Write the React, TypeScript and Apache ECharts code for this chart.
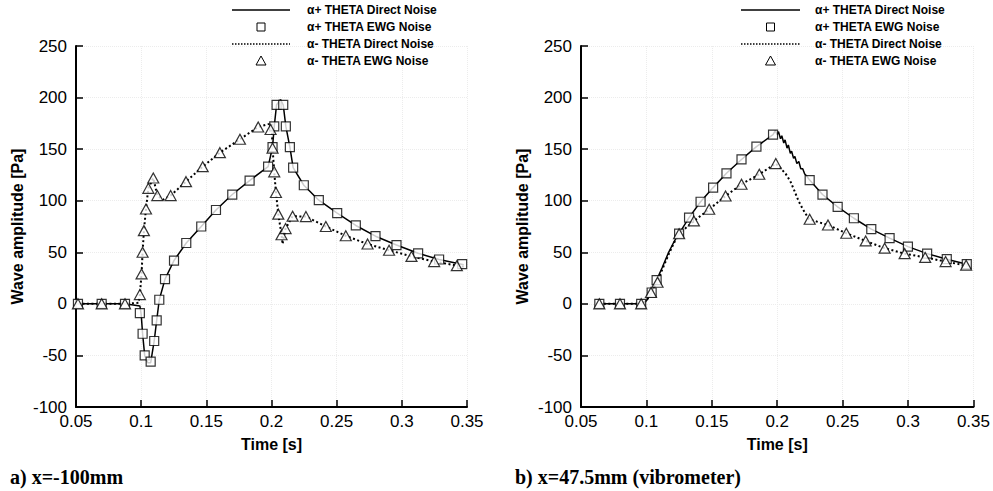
import React, { useEffect, useRef } from "react";
import * as echarts from "echarts";

// ---------- data (time [s], amplitude [Pa]) ----------
const xTicks = [0.05, 0.1, 0.15, 0.2, 0.25, 0.3, 0.35];
const yTicks = [-100, -50, 0, 50, 100, 150, 200, 250];

const seriesNames = [
  "α+ THETA Direct Noise",
  "α+ THETA EWG Noise",
  "α- THETA Direct Noise",
  "α- THETA EWG Noise",
];

const panelCaptions = ["a) x=-100mm", "b) x=47.5mm (vibrometer)"];

// panel a) x=-100mm
const leftPlusEwg: [number, number][] = [
  [0.0515, 0], [0.0697, 0], [0.0876, 0], [0.099, -9], [0.1011, -29], [0.1027, -50],
  [0.1073, -56], [0.11, -36], [0.1119, -16], [0.1139, 4], [0.1183, 24], [0.1252, 42],
  [0.1346, 59], [0.1461, 75], [0.1574, 91], [0.1699, 106], [0.1832, 119.5], [0.1974, 133],
  [0.2008, 152], [0.2021, 172], [0.2039, 193], [0.209, 193], [0.211, 172], [0.2141, 152],
  [0.2166, 132], [0.2248, 115], [0.2363, 100.5], [0.2504, 88], [0.2647, 76], [0.2798, 65.6],
  [0.2959, 57], [0.3125, 49], [0.3286, 43], [0.3463, 38.5],
];
const leftPlusDirect: [number, number][] = [
  [0.0515, 0], [0.0697, 0], [0.0876, 0], [0.099, -2], [0.1, -10], [0.1011, -29], [0.1027, -50],
  [0.105, -57], [0.1073, -57], [0.11, -36], [0.1119, -16], [0.1139, 4], [0.1183, 24],
  [0.1252, 42], [0.1346, 59], [0.1461, 75], [0.1574, 91], [0.1699, 106], [0.1832, 119.5],
  [0.1974, 133], [0.2008, 152], [0.2021, 172], [0.2039, 193], [0.2069, 198], [0.209, 193],
  [0.211, 172], [0.2141, 152], [0.2166, 132], [0.2248, 115], [0.2363, 100.5], [0.2504, 88],
  [0.2647, 76], [0.2798, 65.6], [0.2959, 57], [0.3125, 49], [0.3286, 43], [0.3475, 38],
];
const leftMinusEwg: [number, number][] = [
  [0.0515, 0], [0.0697, 0], [0.0876, 0], [0.099, 9], [0.1003, 29], [0.1011, 50], [0.1021, 71],
  [0.1037, 92], [0.1055, 112], [0.1093, 122], [0.1124, 105], [0.1226, 105], [0.1344, 118.5],
  [0.1472, 133], [0.1604, 146.6], [0.1758, 159.6], [0.1898, 171.5], [0.1993, 169],
  [0.2008, 151], [0.2021, 128], [0.2034, 108], [0.2052, 87], [0.2077, 67], [0.2108, 73],
  [0.2162, 85], [0.2264, 84.6], [0.2417, 75], [0.257, 66], [0.2737, 58], [0.2902, 52],
  [0.3074, 46], [0.3248, 41], [0.3422, 37],
];
const leftMinusDirect: [number, number][] = [
  [0.0515, 0], [0.0697, 0], [0.0876, 0], [0.098, 1], [0.099, 9], [0.1003, 29], [0.1011, 50],
  [0.1021, 71], [0.1037, 92], [0.1055, 112], [0.1093, 122], [0.1124, 105], [0.117, 101],
  [0.1226, 105], [0.1344, 118.5], [0.1472, 133], [0.1604, 146.6], [0.1758, 159.6],
  [0.1898, 171.5], [0.2, 175], [0.2008, 151], [0.2021, 128], [0.2034, 108], [0.2052, 87],
  [0.2077, 67], [0.2085, 58], [0.2108, 73], [0.2162, 85], [0.2264, 84.6], [0.2417, 75],
  [0.257, 66], [0.2737, 58], [0.2902, 52], [0.3074, 46], [0.3248, 41], [0.3475, 36],
];

// panel b) x=47.5mm (vibrometer)
const rightPlusEwg: [number, number][] = [
  [0.064, 0], [0.0798, 0], [0.096, 0], [0.104, 11], [0.1078, 23], [0.125, 68], [0.1326, 83.6],
  [0.1414, 99], [0.151, 112.7], [0.1612, 126.6], [0.1727, 140], [0.1841, 152.4],
  [0.1968, 164], [0.2248, 120], [0.2346, 106], [0.2462, 94], [0.2586, 83], [0.2719, 72.4],
  [0.2859, 63.7], [0.2999, 55.5], [0.3146, 48.7], [0.3296, 43.3], [0.3449, 38.5],
];
const rightPlusDirect: [number, number][] = [
  [0.064, 0], [0.0798, 0], [0.096, 0], [0.1, 3], [0.104, 11], [0.1078, 23], [0.112, 35],
  [0.117, 50], [0.121, 60], [0.125, 68], [0.1326, 83.6], [0.1414, 99], [0.151, 112.7],
  [0.1612, 126.6], [0.1727, 140], [0.1841, 152.4], [0.1968, 164], [0.1985, 168],
  [0.2, 164], [0.201, 167], [0.2025, 160], [0.2035, 163], [0.205, 156], [0.206, 159],
  [0.2075, 151], [0.2085, 154], [0.21, 146], [0.211, 148], [0.2125, 141], [0.2135, 143],
  [0.215, 136], [0.2165, 138], [0.218, 131], [0.2195, 131], [0.221, 126], [0.2225, 124],
  [0.2248, 120], [0.2346, 106], [0.2462, 94], [0.2586, 83], [0.2719, 72.4], [0.2859, 63.7],
  [0.2999, 55.5], [0.3146, 48.7], [0.3296, 43.3], [0.3465, 38],
];
const rightMinusEwg: [number, number][] = [
  [0.064, 0], [0.0798, 0], [0.096, 0], [0.1035, 11], [0.1085, 21], [0.125, 68],
  [0.1363, 80.4], [0.148, 91.7], [0.1605, 104.6], [0.1727, 116], [0.1863, 125.7],
  [0.1989, 136], [0.2248, 82], [0.2388, 76.5], [0.2528, 68.5], [0.2676, 61], [0.2821, 54],
  [0.2974, 48.7], [0.3131, 45], [0.3287, 41], [0.3444, 37.5],
];
const rightMinusDirect: [number, number][] = [
  [0.064, 0], [0.0798, 0], [0.096, 0], [0.1, 3], [0.1035, 11], [0.1085, 21], [0.112, 33],
  [0.117, 48], [0.121, 59], [0.125, 68], [0.1363, 80.4], [0.148, 91.7], [0.1605, 104.6],
  [0.1727, 116], [0.1863, 125.7], [0.1989, 136], [0.203, 131], [0.2065, 126], [0.21, 119],
  [0.213, 110], [0.2162, 100], [0.2195, 92], [0.2243, 82], [0.2388, 76.5], [0.2528, 68.5],
  [0.2676, 61], [0.2821, 54], [0.2974, 48.7], [0.3131, 45], [0.3287, 41], [0.347, 36.5],
];

const panels = [
  { plusDirect: leftPlusDirect, plusEwg: leftPlusEwg, minusDirect: leftMinusDirect, minusEwg: leftMinusEwg },
  { plusDirect: rightPlusDirect, plusEwg: rightPlusEwg, minusDirect: rightMinusDirect, minusEwg: rightMinusEwg },
];

// ---------- layout ----------
const grids = [
  { left: 76, top: 46, width: 391, height: 361 },
  { left: 581, top: 46, width: 393, height: 361 },
];
const legendPos = [
  { lineX0: 232, lineX1: 290, textX: 307 },
  { lineX0: 741, lineX1: 800, textX: 815 },
];
const legendRowsY = [10, 27, 44, 61];
const captionX = [10, 515];
const FONT = "'Liberation Sans', Arial, Helvetica, sans-serif";

const fmt = (v: number) => String(Number(v.toFixed(2)));

export default function App() {
  const ref = useRef<HTMLDivElement>(null);
  useEffect(() => {
    if (!ref.current) return;
    const chart = echarts.init(ref.current, undefined, { renderer: "svg" });

    const xAxis: any[] = [];
    const yAxis: any[] = [];
    const series: any[] = [];
    const graphic: any[] = [];

    grids.forEach((g, i) => {
      xAxis.push({
        type: "value",
        gridIndex: i,
        min: xTicks[0],
        max: xTicks[xTicks.length - 1],
        interval: 0.05,
        name: "Time [s]",
        nameLocation: "middle",
        nameGap: 29,
        nameTextStyle: { color: "#000", fontFamily: FONT, fontWeight: "bold", fontSize: 16 },
        axisLine: { onZero: false, lineStyle: { color: "#000", width: 2 } },
        axisTick: { inside: true, length: 7, lineStyle: { color: "#000", width: 1.5 } },
        axisLabel: { color: "#000", fontFamily: FONT, fontSize: 17, margin: 6, formatter: fmt },
        splitLine: { show: true, lineStyle: { color: "#ececec", type: "dotted", width: 1 } },
      });
      yAxis.push({
        type: "value",
        gridIndex: i,
        min: yTicks[0],
        max: yTicks[yTicks.length - 1],
        interval: 50,
        name: "Wave amplitude [Pa]",
        nameLocation: "middle",
        nameGap: 51,
        nameTextStyle: { color: "#000", fontFamily: FONT, fontWeight: "bold", fontSize: 16 },
        axisLine: { onZero: false, lineStyle: { color: "#000", width: 2 } },
        axisTick: { inside: true, length: 7, lineStyle: { color: "#000", width: 1.5 } },
        axisLabel: { color: "#000", fontFamily: FONT, fontSize: 17, margin: 9 },
        splitLine: { show: true, lineStyle: { color: "#ececec", type: "dotted", width: 1 } },
      });
      const p = panels[i];
      series.push(
        {
          name: seriesNames[0], type: "line", xAxisIndex: i, yAxisIndex: i, data: p.plusDirect,
          symbol: "none", lineStyle: { color: "#000", width: 1.5, type: "solid" }, z: 2,
        },
        {
          name: seriesNames[2], type: "line", xAxisIndex: i, yAxisIndex: i, data: p.minusDirect,
          symbol: "none", lineStyle: { color: "#000", width: 2, type: [2, 2.5] }, z: 2,
        },
        {
          name: seriesNames[1], type: "scatter", xAxisIndex: i, yAxisIndex: i, data: p.plusEwg,
          symbol: "rect", symbolSize: 9,
          itemStyle: { color: "#fff", borderColor: "#000", borderWidth: 1.2 }, z: 3,
        },
        {
          name: seriesNames[3], type: "scatter", xAxisIndex: i, yAxisIndex: i, data: p.minusEwg,
          symbol: "triangle", symbolSize: [11, 10],
          itemStyle: { color: "#fff", borderColor: "#000", borderWidth: 1.2 }, z: 4,
        }
      );

      // legend drawn with graphic elements
      const L = legendPos[i];
      const mid = (L.lineX0 + L.lineX1) / 2;
      graphic.push(
        {
          type: "line", z: 100, shape: { x1: L.lineX0, y1: legendRowsY[0], x2: L.lineX1, y2: legendRowsY[0] },
          style: { stroke: "#000", lineWidth: 1.3 },
        },
        {
          type: "rect", z: 100, shape: { x: mid - 4, y: legendRowsY[1] - 4, width: 8, height: 8 },
          style: { fill: "#fff", stroke: "#000", lineWidth: 1 },
        },
        {
          type: "line", z: 100, shape: { x1: L.lineX0, y1: legendRowsY[2], x2: L.lineX1, y2: legendRowsY[2] },
          style: { stroke: "#000", lineWidth: 1.3, lineDash: [1.5, 1.5] },
        },
        {
          type: "polygon", z: 100,
          shape: { points: [[mid, legendRowsY[3] - 5], [mid + 5, legendRowsY[3] + 4], [mid - 5, legendRowsY[3] + 4]] },
          style: { fill: "#fff", stroke: "#000", lineWidth: 1 },
        }
      );
      seriesNames.forEach((nm, r) => {
        graphic.push({
          type: "text", z: 100, x: L.textX, y: legendRowsY[r],
          style: {
            text: nm, fill: "#000", font: `bold 12px ${FONT}`,
            textAlign: "left", textVerticalAlign: "middle",
          },
        });
      });
      graphic.push({
        type: "text", z: 100, x: captionX[i], y: 477,
        style: {
          text: panelCaptions[i], fill: "#000",
          font: "bold 20px 'Liberation Serif', 'Times New Roman', serif",
          textAlign: "left", textVerticalAlign: "middle",
        },
      });
    });

    chart.setOption({
      animation: false,
      backgroundColor: "#fff",
      grid: grids.map((g) => ({ ...g, containLabel: false })),
      xAxis,
      yAxis,
      series,
      graphic,
    });
    return () => chart.dispose();
  }, []);

  return (
    <div
      ref={ref}
      style={{ position: "fixed", left: 0, top: 0, width: 993, height: 491, background: "#fff" }}
    />
  );
}
